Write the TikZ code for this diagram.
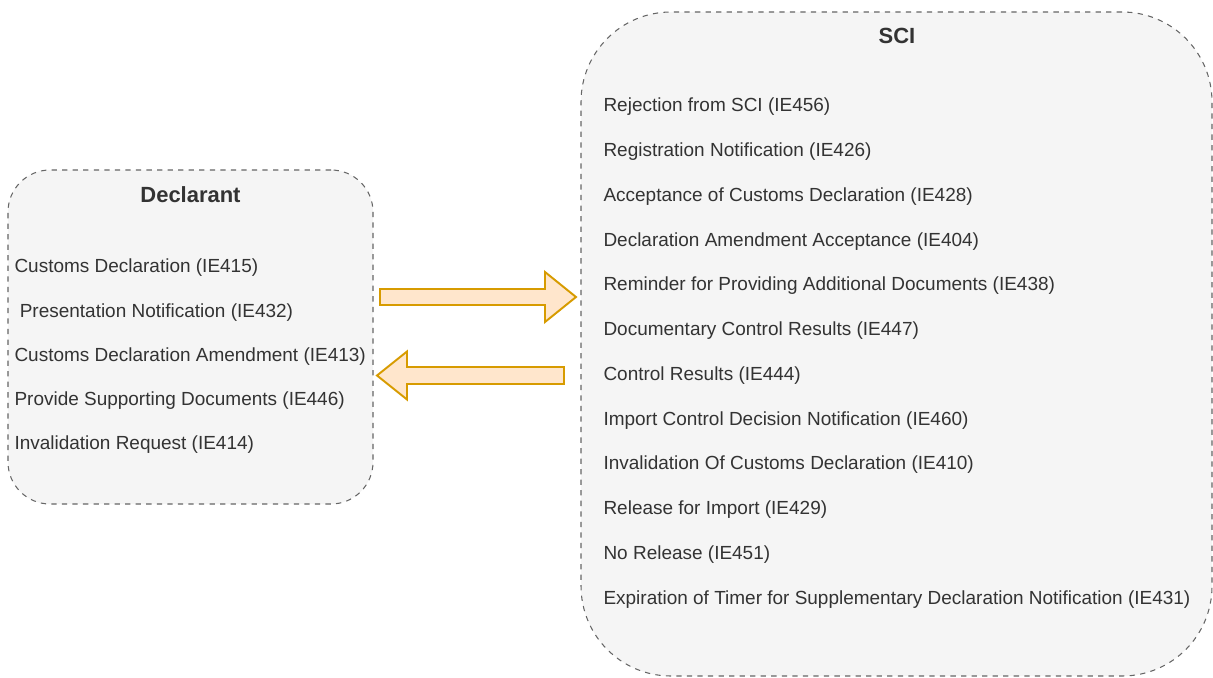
\documentclass[tikz,border=0pt]{standalone}
\usepackage{fontspec}
\setmainfont{Liberation Sans}
\usepackage{tikz}
\usetikzlibrary{positioning}

\definecolor{boxfill}{HTML}{F5F5F5}
\definecolor{boxline}{HTML}{666666}
\definecolor{txt}{HTML}{333333}
\definecolor{arrfill}{HTML}{FFE6CC}
\definecolor{arrline}{HTML}{D79B00}

\begin{document}
\begin{tikzpicture}[
            node distance = 0.885cm, % distance between message lines
            semithick % line style
        ]

        \tikzstyle{party}=[
            draw = boxline,
            fill = boxfill,
            dashed,
            line width = 0.6pt
        ]
        \tikzstyle{title}=[
            text = txt,
            font = \fontsize{12.5}{15}\selectfont\bfseries
        ]
        \tikzstyle{msg}=[
            text = txt,
            inner sep = 0pt,
            anchor = west,
            font = \fontsize{10.8}{13}\selectfont
        ]
        \tikzstyle{bigarrow}=[
            draw = arrline,
            fill = arrfill,
            line width = 1.1pt,
            line join = miter
        ]

        \useasboundingbox (0,0) rectangle (24.26,-13.54);

	% declarant side
        \node[party, minimum width = 7.3cm, minimum height = 6.68cm,
              rounded corners = 0.84cm] (D) at (3.81,-6.74) {};
        \node[title] (DT) at (3.81,-3.9) {Declarant};

        \node[msg] (D1) at (0.28,-5.36) {Customs Declaration (IE415)};
        \node[msg] (D2) [below=of D1.west, anchor=west] {\ Presentation Notification (IE432)};
        \node[msg] (D3) [below=of D2.west, anchor=west] {Customs Declaration Amendment (IE413)};
        \node[msg] (D4) [below=of D3.west, anchor=west] {Provide Supporting Documents (IE446)};
        \node[msg] (D5) [below=of D4.west, anchor=west] {Invalidation Request (IE414)};

	% SCI side
        \node[party, minimum width = 12.62cm, minimum height = 13.28cm,
              rounded corners = 1.8cm] (S) at (17.93,-6.88) {};
        \node[title] (ST) at (17.94,-0.72) {SCI};

        \begin{scope}[node distance = 0.895cm]
        \node[msg] (S1) at (12.06,-2.14) {Rejection from SCI (IE456)};
        \node[msg] (S2) [below=of S1.west, anchor=west] {Registration Notification (IE426)};
        \node[msg] (S3) [below=of S2.west, anchor=west] {Acceptance of Customs Declaration (IE428)};
        \node[msg] (S4) [below=of S3.west, anchor=west] {Declaration Amendment Acceptance (IE404)};
        \node[msg] (S5) [below=of S4.west, anchor=west] {Reminder for Providing Additional Documents (IE438)};
        \node[msg] (S6) [below=of S5.west, anchor=west] {Documentary Control Results (IE447)};
        \node[msg] (S7) [below=of S6.west, anchor=west] {Control Results (IE444)};
        \node[msg] (S8) [below=of S7.west, anchor=west] {Import Control Decision Notification (IE460)};
        \node[msg] (S9) [below=of S8.west, anchor=west] {Invalidation Of Customs Declaration (IE410)};
        \node[msg] (S10) [below=of S9.west, anchor=west] {Release for Import (IE429)};
        \node[msg] (S11) [below=of S10.west, anchor=west] {No Release (IE451)};
        \node[msg] (S12) [below=of S11.west, anchor=west] {Expiration of Timer for Supplementary Declaration Notification (IE431)};
        \end{scope}

	% exchange arrows
        \draw[bigarrow] (7.6,-5.78) -- (10.9,-5.78) -- (10.9,-5.44) -- (11.52,-5.94)
            -- (10.9,-6.44) -- (10.9,-6.1) -- (7.6,-6.1) -- cycle;
        \draw[bigarrow] (11.28,-7.34) -- (8.14,-7.34) -- (8.14,-7.03) -- (7.54,-7.51)
            -- (8.14,-7.99) -- (8.14,-7.68) -- (11.28,-7.68) -- cycle;

  \end{tikzpicture}
\end{document}
